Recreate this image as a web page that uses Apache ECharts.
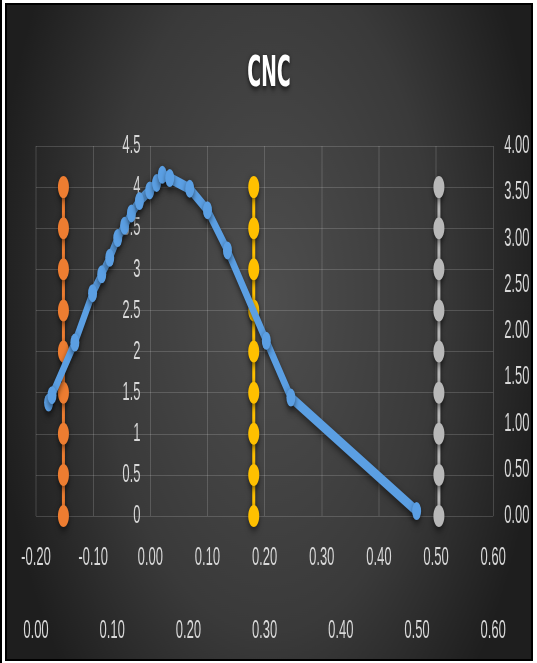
<!DOCTYPE html>
<html>
<head>
<meta charset="utf-8">
<script src="https://cdn.jsdelivr.net/npm/echarts@6/dist/echarts.min.js"></script>
<style>
  html, body { margin: 0; padding: 0; background: #ffffff; width: 537px; height: 663px; overflow: hidden; }
  #edge { position: absolute; left: 0; top: 0; width: 2px; height: 663px; background: #000; }
  #frame { position: absolute; left: 5px; top: 3px; width: 524px; height: 654px; border: 2px solid #000; overflow: hidden; }
  /* the chart is laid out twice as wide, then compressed horizontally */
  #chart { position: absolute; left: 0; top: 0; width: 1048px; height: 654px; transform: scaleX(0.5); transform-origin: 0 0; }
</style>
</head>
<body>
<div id="edge"></div>
<div id="frame"><div id="chart"></div></div>
<script>
// CNC curve
const cncX = [-0.178, -0.172, -0.132, -0.101, -0.085, -0.071, -0.057, -0.045, -0.033, -0.019,
              -0.001, 0.011, 0.021, 0.034, 0.069, 0.100, 0.135, 0.203, 0.246, 0.466];
const cncY = [1.38, 1.47, 2.11, 2.71, 2.94, 3.14, 3.38, 3.53, 3.68, 3.83,
              3.96, 4.05, 4.15, 4.11, 3.98, 3.72, 3.23, 2.13, 1.44, 0.06];

// vertical limit lines
const limitHeights = [0, 0.5, 1, 1.5, 2, 2.5, 3, 3.5, 4];
const lowerLimitX = -0.152;
const centerLineX = 0.181;
const upperLimitX = 0.505;

// axis ranges
const xPrimary = { min: -0.2, max: 0.6, step: 0.1 };
const xSecondary = { min: 0, max: 0.6, step: 0.1 };
const yPrimary = { min: 0, max: 4.5, step: 0.5 };
const ySecondary = { min: 0, max: 4, step: 0.5 };

const gridBox = { left: 58, right: 74, top: 141, bottom: 143 };
const chartWidth = 1048;

const labelColor = '#d9d9d9';
const labelFont = "'Liberation Sans', Arial, sans-serif";
const labelSize = 26;
const shadow = { shadowColor: 'rgba(0,0,0,0.55)', shadowBlur: 8, shadowOffsetY: 3 };

// the value axis crosses the horizontal axis at x = 0
const plotWidth = chartWidth - gridBox.left - gridBox.right;
const zeroOffset = -plotWidth * (0 - xPrimary.min) / (xPrimary.max - xPrimary.min);

function vertical(x) { return limitHeights.map(h => [x, h]); }
function limitSeries(name, x, color) {
  return {
    name: name, type: 'line', data: vertical(x), xAxisIndex: 0, yAxisIndex: 0,
    symbol: 'circle', symbolSize: 22, z: 2,
    lineStyle: Object.assign({ color: color, width: 6 }, shadow),
    itemStyle: Object.assign({ color: color }, shadow)
  };
}

const chart = echarts.init(document.getElementById('chart'));
chart.setOption({
  animation: false,
  backgroundColor: {
    type: 'radial', x: 0.5, y: 0.45, r: 0.85,
    colorStops: [{ offset: 0, color: '#4e4e4e' }, { offset: 0.6, color: '#3a3a3a' }, { offset: 1, color: '#1e1e1e' }]
  },
  title: {
    text: 'CNC', left: 'center', top: 44,
    textStyle: {
      color: '#ffffff', fontSize: 42, fontWeight: 'bold',
      fontFamily: "'Liberation Sans Narrow', 'DejaVu Sans Condensed', sans-serif",
      textShadowColor: 'rgba(0,0,0,0.8)', textShadowBlur: 6, textShadowOffsetY: 2
    }
  },
  grid: gridBox,
  xAxis: [
    {
      type: 'value', position: 'bottom', min: xPrimary.min, max: xPrimary.max, interval: xPrimary.step,
      axisLine: { show: false, onZero: false }, axisTick: { show: false },
      axisLabel: { color: labelColor, fontSize: labelSize, fontFamily: labelFont, margin: 29, formatter: v => v.toFixed(2) },
      splitLine: { show: true, lineStyle: { color: 'rgba(255,255,255,0.16)', width: 2 } }
    },
    {
      type: 'value', position: 'bottom', min: xSecondary.min, max: xSecondary.max, interval: xSecondary.step,
      axisLine: { show: false, onZero: false }, axisTick: { show: false },
      axisLabel: { color: labelColor, fontSize: labelSize, fontFamily: labelFont, margin: 102, formatter: v => v.toFixed(2) },
      splitLine: { show: false }
    }
  ],
  yAxis: [
    {
      type: 'value', position: 'left', offset: zeroOffset,
      min: yPrimary.min, max: yPrimary.max, interval: yPrimary.step,
      axisLine: { show: false, onZero: false }, axisTick: { show: false },
      axisLabel: { color: labelColor, fontSize: labelSize, fontFamily: labelFont, margin: 20 },
      splitLine: { show: true, lineStyle: { color: 'rgba(255,255,255,0.16)', width: 1 } }
    },
    {
      type: 'value', position: 'right', min: ySecondary.min, max: ySecondary.max, interval: ySecondary.step,
      axisLine: { show: false, onZero: false }, axisTick: { show: false },
      axisLabel: { color: labelColor, fontSize: labelSize, fontFamily: labelFont, margin: 22, formatter: v => v.toFixed(2) },
      splitLine: { show: false }
    }
  ],
  series: [
    limitSeries('LCL', lowerLimitX, '#ed7d31'),
    limitSeries('CL', centerLineX, '#ffc000'),
    limitSeries('UCL', upperLimitX, '#b8b8b8'),
    {
      name: 'CNC', type: 'line', xAxisIndex: 0, yAxisIndex: 0, z: 3,
      data: cncX.map((x, i) => [x, cncY[i]]),
      symbol: 'circle', symbolSize: 18,
      lineStyle: Object.assign({ color: '#5b9fe3', width: 11 }, shadow),
      itemStyle: Object.assign({ color: '#5b9fe3' }, shadow)
    }
  ]
});
</script>
</body>
</html>
